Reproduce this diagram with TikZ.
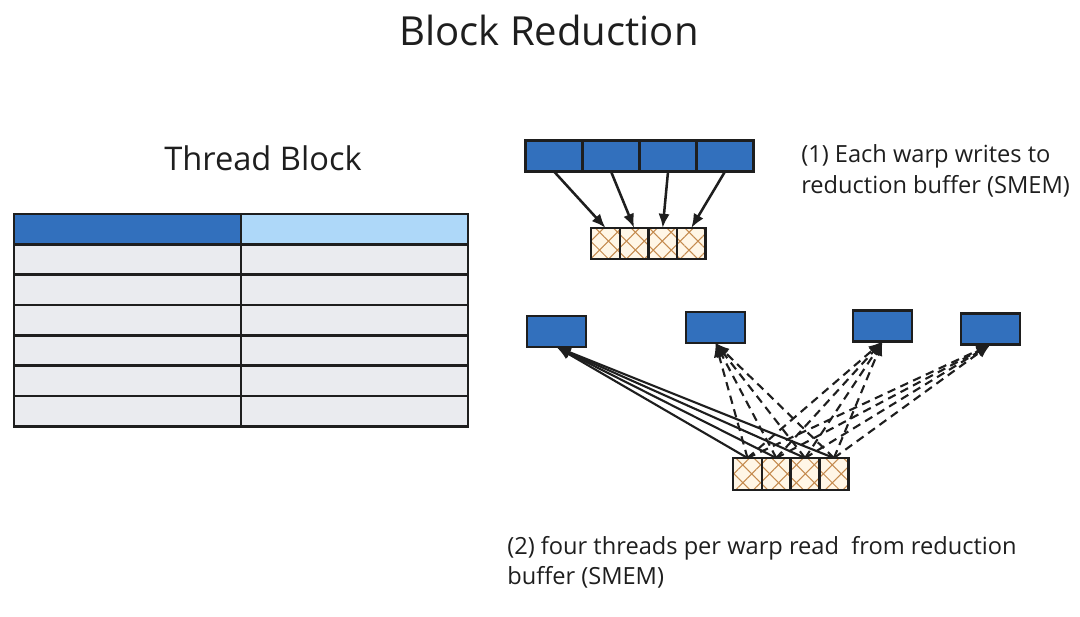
\documentclass[tikz,border=0pt]{standalone}
\usepackage{fontspec}
\setmainfont{Open Sans}
\usetikzlibrary{arrows.meta,positioning,patterns.meta}
\definecolor{ink}{HTML}{1E1E1E}
\definecolor{warpblue}{HTML}{3270BD}
\definecolor{paleblue}{HTML}{AED8F9}
\definecolor{cellgray}{HTML}{EAEBEF}
\definecolor{cream}{HTML}{FFF6E6}
\definecolor{hatch}{HTML}{C48A4E}

\tikzset{
  tcell/.style={draw=ink,line width=1.9pt,fill=cellgray,minimum width=5.675cm,minimum height=0.758cm,inner sep=0pt,outer sep=0pt},
  warp/.style={draw=ink,line width=1.8pt,fill=warpblue,minimum width=1.425cm,minimum height=0.775cm,inner sep=0pt,outer sep=0pt},
  smem/.style={draw=ink,line width=1.8pt,minimum width=0.715cm,minimum height=0.78cm,inner sep=0pt,outer sep=0pt,
    preaction={fill=cream},
    preaction={pattern={Lines[angle=45,distance=9pt,line width=0.75pt]},pattern color=hatch},
    preaction={pattern={Lines[angle=-45,distance=9pt,line width=0.75pt]},pattern color=hatch}},
  wr/.style={-{Latex[length=10pt,width=8pt]},line width=1.8pt,draw=ink},
  rd/.style={wr,line width=1.5pt},
  rddash/.style={rd,dash pattern=on 6pt off 4pt},
  note/.style={font=\fontsize{16.8}{21.5}\selectfont,align=left,inner sep=0pt,text=ink},
}

\begin{document}
\begin{tikzpicture}[x=0.025cm,y=-0.025cm]
\useasboundingbox (0,0) rectangle (1080,617);

% titles
\node[text=ink,font=\fontsize{28.5}{32}\selectfont] (title) at (549,30) {Block Reduction};
\node[text=ink,font=\fontsize{23.2}{27}\selectfont] (tblabel) at (263,158) {Thread Block};

% thread block table
\node[tcell,fill=warpblue] (ta0) at (127.5,229.2) {};
\node[tcell,fill=paleblue,right=0pt of ta0] (tb0) {};
\foreach \r in {1,...,6} {
  \pgfmathsetmacro\yy{229.2+30.33*\r}
  \node[tcell] (ta\r) at (127.5,\yy) {};
  \node[tcell,right=0pt of ta\r] (tb\r) {};
}

% (1) warps write to buffer
\node[warp] (w1) at (554,156) {};
\foreach \i [evaluate=\i as \j using int(\i-1)] in {2,3,4}
  \node[warp,right=0pt of w\j] (w\i) {};
\node[smem] (b1) at (605.5,243.5) {};
\foreach \i [evaluate=\i as \j using int(\i-1)] in {2,3,4}
  \node[smem,right=0pt of b\j] (b\i) {};
\foreach \i in {1,...,4}
  \draw[wr] (w\i.south) -- (b\i.north);
\node[note,anchor=west] (n1) at (801,171) {(1) Each warp writes to\\reduction buffer (SMEM)};

% (2) each warp reads the buffer
\node[warp,minimum width=1.475cm] (r1) at (556.5,331.5) {};
\node[warp,minimum width=1.475cm] (r2) at (715.5,327.5) {};
\node[warp,minimum width=1.475cm] (r3) at (882.5,326) {};
\node[warp,minimum width=1.475cm] (r4) at (990.5,329) {};
\node[smem,minimum width=0.72cm,minimum height=0.8cm] (c1) at (747.5,474) {};
\foreach \i [evaluate=\i as \j using int(\i-1)] in {2,3,4}
  \node[smem,minimum width=0.72cm,minimum height=0.8cm,right=0pt of c\j] (c\i) {};
\foreach \j in {1,...,4}
  \draw[rd] (c\j.north) -- (r1.south);
\foreach \w in {2,3,4}
  \foreach \j in {1,...,4}
    \draw[rddash] (c\j.north) -- (r\w.south);
\node[note,anchor=west] (n2) at (507,562) {(2) four threads per warp read\ \ from reduction\\buffer (SMEM)};
\end{tikzpicture}
\end{document}
